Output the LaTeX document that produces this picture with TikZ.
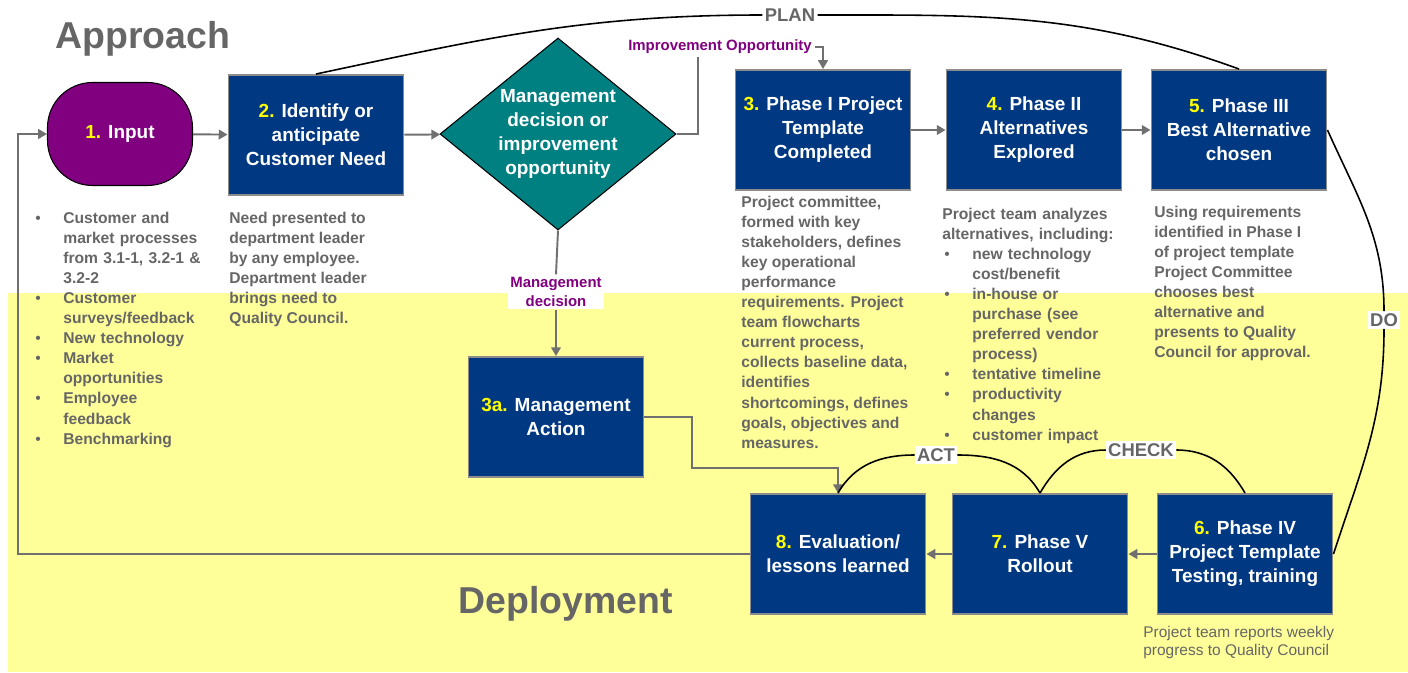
\documentclass[tikz,border=0pt]{standalone}
\usepackage{fontspec}
\setmainfont{Liberation Sans}
\usetikzlibrary{arrows.meta,shapes.geometric}

\definecolor{navy}{HTML}{003882}
\definecolor{plum}{HTML}{800080}
\definecolor{tealgreen}{HTML}{008080}
\definecolor{txtgray}{HTML}{666666}
\definecolor{linegray}{HTML}{707070}
\definecolor{boxgray}{HTML}{8C8C8C}
\definecolor{bandyellow}{HTML}{FFFF99}
\definecolor{numyellow}{HTML}{FFFF00}

\newcommand{\stepno}[1]{\textcolor{numyellow}{#1}}
\newcommand{\bitem}[1]{\noindent\hangindent=6mm\hangafter=1\makebox[6mm][l]{\hspace{0.4mm}\mdseries\textbullet}#1\par}

\begin{document}
\begin{tikzpicture}[x=0.2mm, y=-0.2mm,
  phase/.style={rectangle, draw=boxgray, line width=1.1pt, fill=navy, text=white,
    minimum width=35mm, minimum height=24mm, align=center,
    font=\bfseries\fontsize{10.8}{13.7}\selectfont},
  inputbox/.style={rectangle, rounded corners=9mm, draw=black, line width=0.6pt, fill=plum,
    text=white, minimum width=29mm, minimum height=20.6mm,
    font=\bfseries\fontsize{10.8}{13.7}\selectfont},
  decision/.style={diamond, draw=black, line width=0.6pt, fill=tealgreen, text=white,
    minimum width=47.2mm, minimum height=38.4mm, inner sep=0pt, shape aspect=1.23,
    align=center, font=\bfseries\fontsize{10.8}{13.7}\selectfont},
  desc/.style={anchor=north west, inner sep=0pt, text=txtgray, align=left,
    font=\bfseries\fontsize{8.9}{11.4}\selectfont},
  title/.style={anchor=base west, inner sep=0pt, text=txtgray,
    font=\bfseries\fontsize{21.3}{24}\selectfont},
  flow/.style={draw=linegray, line width=1.1pt, -{Triangle[length=5pt,width=5.5pt]}},
  flowline/.style={draw=linegray, line width=1.1pt},
  pdca/.style={draw=black, line width=0.9pt},
  pdcalbl/.style={fill=white, inner sep=1.2pt, text=txtgray,
    font=\bfseries\fontsize{10.5}{12}\selectfont},
  choice/.style={fill=white, inner sep=1.5pt, text=plum, align=center,
    font=\bfseries\fontsize{8.5}{10.8}\selectfont}]

\useasboundingbox (0,0) rectangle (1408,672);
\fill[bandyellow] (8,293) rectangle (1408,672);

% titles
\node[title] (appr) at (55,48) {Approach};
\node[title] (depl) at (458,613) {Deployment};

% process steps
\node[inputbox] (inp) at (120,134) {\stepno{1.} Input};
\node[phase] (b2) at (316,135) {\stepno{2.} Identify or\\anticipate\\Customer Need};
\node[decision] (dec) at (558,134) {Management\\decision or\\improvement\\opportunity};
\node[phase] (b3) at (823,130) {\stepno{3.} Phase I Project\\Template\\Completed};
\node[phase] (b4) at (1034,130) {\stepno{4.} Phase II\\Alternatives\\Explored};
\node[phase] (b5) at (1239,130) {\stepno{5.} Phase III\\Best Alternative\\chosen};
\node[phase] (b3a) at (556,417) {\stepno{3a.} Management\\Action};
\node[phase] (b8) at (838,554) {\stepno{8.} Evaluation/\\lessons learned};
\node[phase] (b7) at (1040,554) {\stepno{7.} Phase V\\Rollout};
\node[phase] (b6) at (1245,554) {\stepno{6.} Phase IV\\Project Template\\Testing, training};

% notes under the steps
\node[desc, text width=40mm] (n1) at (33,212) {%
  \bitem{Customer and\newline market processes\newline from 3.1-1, 3.2-1 \&\newline 3.2-2}
  \bitem{Customer\newline surveys/feedback}
  \bitem{New technology}
  \bitem{Market\newline opportunities}
  \bitem{Employee\newline feedback}
  \bitem{Benchmarking}};
\node[desc] (n2) at (229,212) {Need presented to\\department leader\\by any employee.\\Department leader\\brings need to\\Quality Council.};
\node[desc] (n3) at (741,196) {Project committee,\\formed with key\\stakeholders, defines\\key operational\\performance\\requirements. Project\\team flowcharts\\current process,\\collects baseline data,\\identifies\\shortcomings, defines\\goals, objectives and\\measures.};
\node[desc, text width=42mm] (n4) at (942,208) {%
  \noindent Project team analyzes\newline alternatives, including:\par
  \bitem{new technology\newline cost/benefit}
  \bitem{in-house or\newline purchase (see\newline preferred vendor\newline process)}
  \bitem{tentative timeline}
  \bitem{productivity\newline changes}
  \bitem{customer impact}};
\node[desc] (n5) at (1154,206) {Using requirements\\identified in Phase I\\of project template\\Project Committee\\chooses best\\alternative and\\presents to Quality\\Council for approval.};
\node[desc, font=\fontsize{8.8}{10.4}\selectfont] (n6) at (1143,626) {Project team reports weekly\\progress to Quality Council};

% labels on the connectors
\node[choice] (impr) at (720,47) {Improvement Opportunity};
\node[choice] (mdec) at (556,292) {Management\\decision};
\node[pdcalbl] (plan) at (790,15) {PLAN};
\node[pdcalbl] (do) at (1384,320) {DO};
\node[pdcalbl] (check) at (1141,450) {CHECK};
\node[pdcalbl] (act) at (936,455) {ACT};

\coordinate (fb) at (18,554);
\coordinate (ioturn) at (698,134);
\coordinate (maturn) at (692,468);

% flow arrows
\draw[flow] (inp) -- (b2);
\draw[flow] (b2) -- (dec);
\draw[flowline] (dec.east) -- (ioturn) -- (ioturn |- impr.south);
\draw[flow] (impr.east) -| (b3.north);
\draw[flowline] (dec.south) -- (mdec.north);
\draw[flow] (mdec.south) -- (b3a.north);
\draw[flow] (b3) -- (b4);
\draw[flow] (b4) -- (b5);
\draw[flow] (b3a.east) -| (maturn) -| (b8.north);
\draw[flow] (b6) -- (b7);
\draw[flow] (b7) -- (b8);
\draw[flow] (b8.west) -- (fb) |- (inp.west);

% plan do check act
\draw[pdca] (b2.north) to[out=12,in=180] (plan.west);
\draw[pdca] (plan.east) to[out=0,in=160] (b5.north);
\draw[pdca] (b5.east) to[out=-66,in=90] (do.north);
\draw[pdca] (do.south) to[out=-90,in=72] (b6.east);
\draw[pdca] (b6.north) to[out=120,in=0] (check.east);
\draw[pdca] (check.west) to[out=180,in=60] (b7.north);
\draw[pdca] (b7.north) to[out=120,in=0] (act.east);
\draw[pdca] (act.west) to[out=180,in=60] (b8.north);

\end{tikzpicture}
\end{document}
